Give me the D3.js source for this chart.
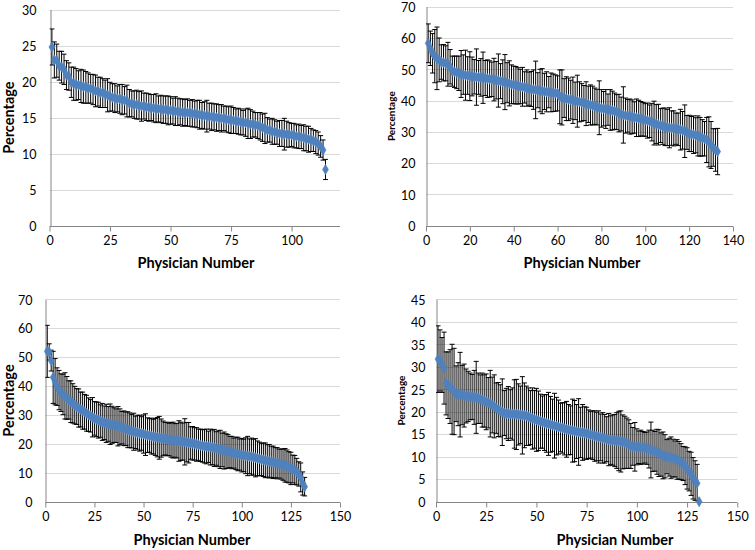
<!DOCTYPE html>
<html>
<head>
<meta charset="utf-8">
<script src="https://cdn.jsdelivr.net/npm/d3@7"></script>
<style>
  body { margin: 0; background: #fff; }
  svg { display: block; }
  text { font-family: Lato, "Noto Sans", sans-serif; fill: #000; }
</style>
</head>
<body>
<svg id="chart" width="755" height="550"></svg>
<script>
// values, one entry per physician (x = 1..n)
const p1Values = [
  24.8,23.0,22.9,22.2,22.0,21.7,20.9,20.7,19.9,19.7,
  19.6,19.5,19.4,19.3,19.2,19.1,19.0,18.9,18.7,18.6,
  18.5,18.4,18.3,18.1,17.9,17.8,17.7,17.6,17.6,17.5,
  17.4,17.3,17.0,16.9,16.8,16.8,16.7,16.6,16.6,16.5,
  16.4,16.4,16.3,16.3,16.2,16.2,16.1,16.1,16.0,16.0,
  15.9,15.9,15.8,15.8,15.7,15.7,15.7,15.6,15.6,15.5,
  15.5,15.4,15.3,15.3,15.2,15.2,15.1,15.1,15.0,15.0,
  14.9,14.9,14.8,14.7,14.7,14.6,14.5,14.5,14.4,14.3,
  14.3,14.2,14.1,14.1,14.0,13.9,13.8,13.6,13.5,13.3,
  13.2,13.1,13.0,12.9,12.8,12.8,12.7,12.7,12.6,12.6,
  12.5,12.4,12.4,12.3,12.2,12.1,12.0,11.9,11.8,11.6,
  11.4,11.0,10.5,7.8
];
const p1Errors = [
  2.5,2.5,2.3,2.0,2.2,2.1,2.0,1.9,2.1,2.3,
  2.2,2.0,2.3,2.3,2.2,2.1,2.0,2.1,2.2,2.0,
  2.1,2.0,1.9,2.3,2.0,1.9,2.0,1.8,2.0,2.1,
  1.9,2.2,1.9,1.8,1.9,2.0,1.9,2.1,1.8,1.9,
  1.9,1.8,1.9,2.0,1.8,1.9,1.9,1.9,2.0,1.9,
  1.8,2.0,1.9,1.8,1.9,1.8,1.9,1.8,1.9,1.8,
  1.9,2.0,1.8,1.9,2.2,1.8,1.9,1.8,1.9,1.8,
  1.9,1.7,1.8,1.8,1.9,1.8,1.7,1.8,1.8,1.7,
  1.9,2.1,2.0,1.8,1.7,1.8,1.9,1.9,2.1,1.7,
  1.6,1.8,1.7,1.6,1.8,1.8,2.2,1.8,1.7,1.6,
  1.7,1.6,1.7,1.6,1.8,1.7,1.8,1.6,1.5,1.6,
  1.6,1.5,1.4,1.4
];

const p2Values = [
  58.3,56.7,55.1,54.2,53.5,53.0,52.3,52.1,51.9,51.6,
  50.8,49.4,49.2,49.0,48.7,48.5,48.3,48.1,48.0,47.8,
  47.7,47.6,47.5,47.4,47.4,47.3,47.2,47.0,46.9,46.8,
  46.7,46.5,46.4,46.2,46.0,45.9,45.7,45.5,45.2,45.0,
  44.9,44.7,44.5,44.4,44.2,44.0,43.8,43.7,43.5,43.4,
  43.3,43.2,43.0,42.9,42.8,42.7,42.6,42.5,42.4,42.3,
  41.2,41.0,40.8,40.6,40.4,40.3,40.1,39.9,39.8,39.6,
  39.4,39.2,39.0,38.8,38.6,38.4,38.2,37.9,37.7,37.5,
  37.4,37.3,37.1,37.0,36.8,36.6,36.3,36.0,35.7,35.4,
  35.2,35.1,34.9,34.8,34.6,34.5,34.3,34.2,34.0,33.8,
  33.6,33.4,33.1,32.8,32.5,32.3,32.0,31.8,31.6,31.4,
  31.3,31.2,31.1,31.0,30.8,30.7,30.5,30.2,29.8,29.5,
  29.3,29.1,28.9,28.7,28.4,28.1,27.8,27.4,26.8,25.8,
  25.0,24.2,23.7
];
const p2Errors = [
  6.2,5.5,6.3,8.5,10.0,7.0,5.5,5.8,5.6,7.0,
  5.5,4.8,5.0,5.2,5.5,7.5,6.3,8.0,6.0,7.8,
  6.2,5.5,9.0,5.4,6.0,8.2,5.6,6.0,5.8,5.5,
  6.8,6.0,8.5,5.6,7.0,8.8,6.4,7.2,6.2,6.0,
  6.0,5.8,5.5,6.2,5.0,5.8,5.3,5.6,6.3,9.2,
  5.6,6.8,7.2,5.8,6.4,5.0,6.2,6.0,5.8,5.6,
  8.6,8.8,6.2,7.0,6.8,6.2,7.4,6.0,8.3,6.4,
  6.0,5.6,7.0,5.8,6.4,6.2,5.8,5.7,8.6,6.0,
  5.5,6.2,5.0,6.5,6.2,5.8,5.6,6.0,5.4,9.0,
  5.6,5.2,5.6,5.4,5.0,6.0,5.8,5.5,5.4,5.2,
  5.6,5.2,6.0,7.0,6.2,6.5,5.4,5.8,6.0,5.8,
  6.4,5.5,5.6,5.0,5.2,6.5,6.0,8.4,5.4,5.8,
  5.6,6.0,5.6,6.4,6.2,5.8,5.5,7.2,8.0,7.5,
  6.0,6.8,7.4
];

const p3Values = [
  52.0,51.8,48.8,43.0,41.5,39.8,38.6,37.7,37.1,36.6,
  35.9,35.2,34.6,34.0,33.4,32.9,32.4,31.9,31.5,31.1,
  30.6,30.1,29.7,29.2,28.8,28.5,28.2,27.9,27.6,27.3,
  27.1,26.9,26.8,26.6,26.5,26.3,26.1,25.9,25.6,25.4,
  25.2,24.9,24.7,24.4,24.2,24.0,23.9,23.7,23.6,23.4,
  23.2,23.0,22.9,22.7,22.5,22.4,22.3,22.1,22.0,21.9,
  21.8,21.7,21.5,21.4,21.3,21.2,21.1,21.0,20.9,20.8,
  20.7,20.6,20.4,20.3,20.2,20.0,19.8,19.7,19.5,19.3,
  19.2,19.1,19.0,18.9,18.8,18.6,18.4,18.3,18.1,17.9,
  17.7,17.5,17.4,17.2,17.0,16.8,16.7,16.5,16.3,16.1,
  16.0,15.9,15.8,15.7,15.6,15.4,15.2,15.0,14.8,14.6,
  14.5,14.3,14.1,14.0,13.8,13.6,13.5,13.3,13.2,13.0,
  12.8,12.6,12.3,11.9,11.5,11.3,11.0,10.4,9.6,8.4,
  6.3,5.2
];
const p3Errors = [
  9.0,2.8,3.6,9.0,8.0,6.5,6.8,6.5,7.0,8.0,
  7.4,6.6,7.2,6.8,6.5,6.2,6.6,6.0,6.4,6.0,
  6.2,5.8,5.6,6.8,5.8,6.0,6.2,5.6,6.4,5.8,
  6.6,6.0,7.0,6.4,6.0,5.8,6.8,6.2,5.6,6.0,
  5.8,6.2,6.0,5.8,6.4,5.6,6.0,6.2,5.8,6.6,
  7.2,6.0,5.8,6.2,6.0,6.4,6.8,7.4,6.6,6.0,
  5.6,5.8,5.6,6.0,6.2,5.8,6.0,7.0,6.6,6.4,
  8.0,6.8,7.0,5.6,5.8,5.6,5.8,5.4,5.6,5.6,
  5.8,6.0,5.4,6.2,6.0,6.4,5.8,6.2,6.6,5.8,
  6.4,6.0,5.8,5.4,5.6,5.2,5.6,5.8,5.4,5.8,
  5.6,6.2,6.8,6.0,6.4,6.2,6.6,6.0,5.8,5.6,
  5.8,6.0,5.6,5.8,5.4,5.6,5.2,5.4,5.0,5.2,
  5.4,5.8,5.6,5.4,5.6,4.8,5.0,4.6,4.2,5.0,
  4.0,3.2
];

const p4Values = [
  31.7,31.4,30.4,29.7,26.3,25.9,25.6,25.0,24.5,24.0,
  23.9,23.8,23.7,23.6,23.5,23.4,23.4,23.3,23.2,23.2,
  23.0,22.8,22.6,22.4,22.2,22.0,21.8,21.5,21.2,20.8,
  20.5,20.2,19.9,19.7,19.6,19.6,19.5,19.5,19.5,19.4,
  19.4,19.3,19.2,19.2,19.1,18.9,18.7,18.5,18.3,18.2,
  18.0,17.9,17.7,17.6,17.4,17.3,17.2,17.0,16.9,16.8,
  16.6,16.5,16.4,16.2,16.1,16.0,15.9,15.8,15.7,15.6,
  15.5,15.4,15.4,15.3,15.2,15.0,14.9,14.8,14.6,14.5,
  14.4,14.3,14.2,14.0,13.9,13.8,13.7,13.7,13.6,13.6,
  13.5,13.4,13.3,13.2,13.0,12.8,12.4,12.3,12.2,12.2,
  12.1,12.1,12.0,12.0,11.9,11.7,11.5,11.3,11.2,11.1,
  10.8,10.5,10.3,10.1,10.0,9.9,9.8,9.7,9.5,9.4,
  9.2,8.9,8.5,8.0,7.4,6.8,6.2,5.2,4.7,4.1,
  0
];
const p4Errors = [
  7.4,6.8,6.1,8.0,7.0,7.4,8.2,10.0,9.6,6.2,
  7.0,9.4,6.6,7.0,6.0,5.6,5.2,5.0,6.0,8.0,
  5.6,5.4,6.0,5.8,6.2,5.6,7.4,6.2,7.0,5.6,
  6.0,5.8,7.4,5.0,5.6,6.0,5.4,5.8,7.6,7.8,
  6.8,6.4,8.6,7.2,6.6,6.4,6.0,6.8,6.4,7.0,
  6.6,6.0,5.8,6.2,6.4,7.0,6.2,5.8,7.2,6.4,
  6.0,5.4,5.6,5.8,6.2,5.6,5.4,7.0,6.8,6.0,
  7.4,5.6,6.2,5.8,5.8,5.4,5.2,5.4,5.6,5.4,
  5.8,5.2,5.6,5.4,5.0,5.8,5.4,5.6,5.8,6.2,
  6.6,6.8,6.0,5.8,5.6,5.4,5.0,4.2,5.4,4.0,
  3.6,3.8,3.6,3.4,3.6,4.2,6.2,4.6,4.4,5.0,
  5.2,4.8,5.2,4.8,3.8,4.2,4.6,4.2,4.0,4.4,
  4.2,4.0,3.8,4.2,4.6,4.4,4.8,4.6,4.4,4.2,
  0
];

// tick labels
const p1XTicks = [0, 25, 50, 75, 100];
const p1YTicks = [0, 5, 10, 15, 20, 25, 30];
const p2XTicks = [0, 20, 40, 60, 80, 100, 120, 140];
const p2YTicks = [0, 10, 20, 30, 40, 50, 60, 70];
const p3XTicks = [0, 25, 50, 75, 100, 125, 150];
const p3YTicks = [0, 10, 20, 30, 40, 50, 60, 70];
const p4XTicks = [0, 25, 50, 75, 100, 125, 150];
const p4YTicks = [0, 5, 10, 15, 20, 25, 30, 35, 40, 45];

// x axis upper bounds (top-left axis runs past its last label)
const p1XMax = 120;
const p2XMax = 140;
const p3XMax = 150;
const p4XMax = 150;

const xTitle = "Physician Number";
const yTitle = "Percentage";

const blue = "#4f81bd";

// panel layout (pixel boxes of each plot area)
const panels = [
  { values: p1Values, errors: p1Errors, xTicks: p1XTicks, yTicks: p1YTicks, xMax: p1XMax,
    left: 49.5, right: 340, top: 9.5, bottom: 225.7, tickPad: 14,
    yLabelX: 9, yLabelSize: 14.5, titleX: 196, titleY: 268 },
  { values: p2Values, errors: p2Errors, xTicks: p2XTicks, yTicks: p2YTicks, xMax: p2XMax,
    left: 426, right: 733, top: 6.7, bottom: 225.7, tickPad: 11,
    yLabelX: 391, yLabelSize: 10, titleX: 582, titleY: 268 },
  { values: p3Values, errors: p3Errors, xTicks: p3XTicks, yTicks: p3YTicks, xMax: p3XMax,
    left: 45.3, right: 340, top: 299.3, bottom: 501.7, tickPad: 13,
    yLabelX: 9, yLabelSize: 14.5, titleX: 192, titleY: 545 },
  { values: p4Values, errors: p4Errors, xTicks: p4XTicks, yTicks: p4YTicks, xMax: p4XMax,
    left: 436, right: 737.3, top: 299.3, bottom: 501.7, tickPad: 11,
    yLabelX: 401.5, yLabelSize: 10, titleX: 615, titleY: 545 }
];

const svg = d3.select("#chart");

panels.forEach((p, k) => {
  const x = d3.scaleLinear()
    .domain([0, p.xMax])
    .range([p.left, p.right]);
  const y = d3.scaleLinear()
    .domain(d3.extent(p.yTicks))
    .range([p.bottom, p.top]);

  const g = svg.append("g");

  //gridlines
  g.append("g")
    .selectAll("line")
    .data(p.yTicks.filter((t) => t > 0))
    .enter()
    .append("line")
    .attr("x1", p.left)
    .attr("x2", p.right)
    .attr("y1", (d) => Math.round(y(d)) + 0.5)
    .attr("y2", (d) => Math.round(y(d)) + 0.5)
    .attr("stroke", "#d9d9d9");

  //axes
  const xAxis = d3.axisBottom(x).tickValues(p.xTicks).tickSize(5).tickPadding(5);
  const yAxis = d3.axisLeft(y).tickValues(p.yTicks).tickSize(0).tickPadding(p.tickPad);

  const xAxisG = g.append("g")
    .attr("transform", `translate(0, ${Math.round(p.bottom) + 0.5})`)
    .call(xAxis);
  const yAxisG = g.append("g")
    .attr("transform", `translate(${Math.round(p.left) + 0.5}, 0)`)
    .call(yAxis);

  // d3 draws the domain only over the tick range, so stretch it to the plot box
  xAxisG.select(".domain").attr("d", `M${p.left},0H${p.right}`);

  [xAxisG, yAxisG].forEach((a) => {
    a.select(".domain").attr("stroke", "#868686");
    a.selectAll(".tick line").attr("stroke", "#868686");
    a.selectAll(".tick text")
      .attr("font-size", 12.5)
      .attr("font-family", "Lato, 'Noto Sans', sans-serif")
      .attr("fill", "#000");
  });
  yAxisG.selectAll(".tick text").attr("dy", "0.38em");

  //clip for error bars
  g.append("clipPath")
    .attr("id", `clip${k}`)
    .append("rect")
    .attr("x", p.left)
    .attr("y", p.top - 10)
    .attr("width", p.right - p.left)
    .attr("height", p.bottom - p.top + 10);

  const pts = p.values.map((v, i) => ({ n: i + 1, v: v, e: p.errors[i] || 0 }));

  const bars = g.append("g").attr("clip-path", `url(#clip${k})`);
  bars.selectAll(".eb")
    .data(pts.filter((d) => d.e > 0))
    .enter()
    .append("path")
    .attr("d", (d) => {
      const cx = x(d.n);
      const y1 = y(d.v + d.e);
      const y0 = y(d.v - d.e);
      return `M${cx},${y1}V${y0}M${cx - 2.5},${y1}H${cx + 2.5}M${cx - 2.5},${y0}H${cx + 2.5}`;
    })
    .attr("fill", "none")
    .attr("stroke", "#000")
    .attr("stroke-width", 1);

  //markers
  g.append("g")
    .selectAll("path")
    .data(pts)
    .enter()
    .append("path")
    .attr("transform", (d) => `translate(${x(d.n)}, ${y(d.v)})`)
    .attr("d", d3.symbol().type(d3.symbolDiamond).size(30))
    .attr("fill", blue)
    .attr("stroke", blue)
    .attr("stroke-width", 0.6);

  //titles
  g.append("text")
    .attr("x", p.titleX)
    .attr("y", p.titleY)
    .attr("text-anchor", "middle")
    .attr("font-weight", "bold")
    .attr("font-size", 14.5)
    .text(xTitle);

  g.append("text")
    .attr("transform", `translate(${p.yLabelX}, ${(p.top + p.bottom) / 2}) rotate(-90)`)
    .attr("text-anchor", "middle")
    .attr("dy", "0.35em")
    .attr("font-weight", "bold")
    .attr("font-size", p.yLabelSize)
    .text(yTitle);
});
</script>
</body>
</html>
